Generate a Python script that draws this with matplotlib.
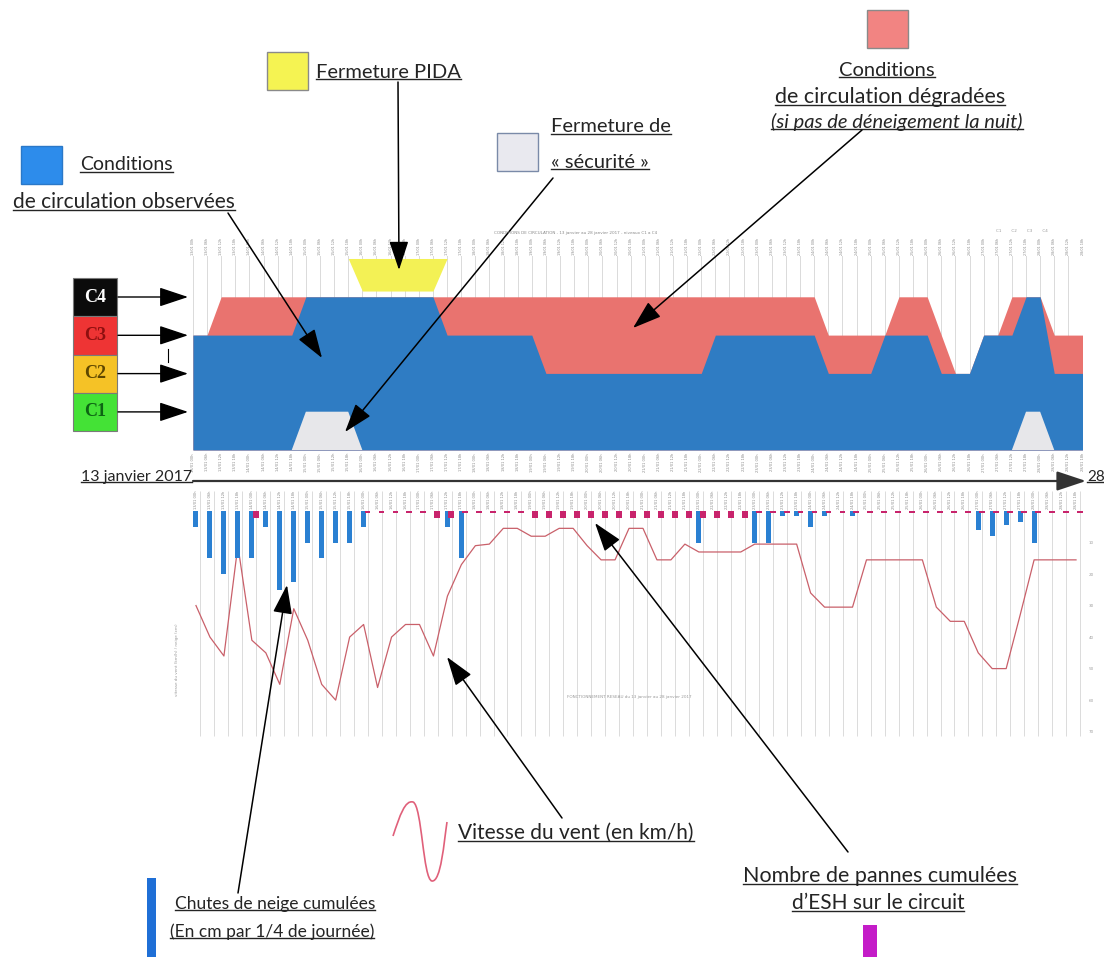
import matplotlib
matplotlib.use('Agg')
import matplotlib.pyplot as plt
import numpy as np
from matplotlib.patches import Rectangle, PathPatch
from matplotlib.path import Path

W, H = 1104, 957
FONT = 'Lato'
TXT = '#242424'

# --- donnees : un point par quart de journee, du 13 au 28 janvier 2017 ---
days = list(range(13, 29))
hours = ['00h', '06h', '12h', '18h']

# niveau de circulation observe / degrade (1 = C1 ... 4 = C4)
observed = [3, 3, 3, 3, 3, 3, 3, 3,
            4, 4, 4, 4, 4, 4, 4, 4, 4, 4,
            3, 3, 3, 3, 3, 3, 3,
            2, 2, 2, 2, 2, 2, 2, 2, 2, 2, 2, 2,
            3, 3, 3, 3, 3, 3, 3, 3,
            2, 2, 2, 2,
            3, 3, 3, 3,
            2, 2, 2,
            3, 3, 3,
            4, 4,
            2, 2, 2]
degraded = [3, 3,
            4, 4, 4, 4, 4, 4, 4, 4, 4, 4,
            4, 4, 4, 4, 4, 4, 4, 4, 4, 4,
            4, 4, 4, 4, 4, 4, 4, 4, 4, 4,
            4, 4, 4, 4, 4, 4, 4, 4, 4, 4,
            4, 4, 4,
            3, 3, 3, 3, 3,
            4, 4, 4,
            3,
            2, 2,
            3, 3,
            4, 4, 4,
            3, 3, 3]
# fermeture de securite (niveau C1) et fermeture PIDA
security = [0, 0, 0, 0, 0, 0, 0, 0, 1, 1, 1, 1,
            0, 0, 0, 0, 0, 0, 0, 0, 0, 0, 0, 0, 0, 0, 0, 0,
            0, 0, 0, 0, 0, 0, 0, 0, 0, 0, 0, 0, 0, 0, 0, 0,
            0, 0, 0, 0, 0, 0, 0, 0, 0, 0, 0, 0, 0, 0, 0,
            1, 1, 0, 0, 0]
pida = [0, 0, 0, 0, 0, 0, 0, 0, 0, 0, 0, 0,
        1, 1, 1, 1, 1, 1,
        0, 0, 0, 0, 0, 0, 0, 0, 0, 0, 0, 0, 0, 0, 0, 0,
        0, 0, 0, 0, 0, 0, 0, 0, 0, 0, 0, 0, 0, 0, 0, 0,
        0, 0, 0, 0, 0, 0, 0, 0, 0, 0, 0, 0, 0, 0]

# chutes de neige (cm par 1/4 de journee)
snow = [5, 15, 20, 15, 15, 5, 25, 22.5, 10, 15, 10, 10, 5,
        0, 0, 0, 0, 0, 5, 15,
        0, 0, 0, 0, 0, 0, 0, 0, 0, 0, 0, 0, 0, 0, 0, 0,
        10, 0, 0, 0, 10, 10, 1.5, 1.5, 5, 1.5, 0, 1.5,
        0, 0, 0, 0, 0, 0, 0, 0,
        6, 8, 4.5, 3.5, 10, 0, 0, 0]
# vitesse du vent (km/h)
wind = [30, 40, 46, 11, 41, 45, 55, 31, 41, 55, 60, 40, 36, 56, 40, 36, 36, 46, 27, 17,
        11, 10.5, 5.5, 5.5, 8, 8, 5.5, 5.5, 11, 15.5, 15.5, 5.5, 5.5, 15.5, 15.5, 10.5,
        13, 13, 13, 13, 10.5, 10.5, 10.5, 10.5, 26, 30.5, 30.5, 30.5, 15.5, 15.5, 15.5, 15.5,
        15.5, 30.5, 35, 35, 45, 50, 50, 33, 15.5, 15.5, 15.5, 15.5]
# pannes d'ESH
failures = [0, 0, 0, 0, 3, 0, 0, 0, 0, 0, 0, 0,
            1, 1, 1, 1, 1, 3, 3, 1, 1, 1, 1, 1,
            3, 3, 3, 3, 3, 3, 3, 3, 3, 3, 3, 3, 3, 3, 3, 3,
            1, 1, 1, 1, 1, 1, 1, 1, 1, 1, 1, 1,
            1, 1, 1, 1, 1, 1, 1, 1, 1, 1, 1, 1]

labels = ['%02d/01 %s' % (d, h) for d in days for h in hours]


def rect(left, top, right, bottom):
    return [left / W, 1 - bottom / H, (right - left) / W, (bottom - top) / H]


fig = plt.figure(figsize=(W / 100, H / 100), dpi=100)
fig.patch.set_facecolor('white')
x = np.arange(len(observed))

# ---------------- graphique du haut ----------------
ax1 = fig.add_axes(rect(192.9, 256, 1082.5, 450))
ax1.vlines(x, 0, 5.2, color='#d4d4d4', lw=0.6, zorder=0)
ax1.fill_between(x, 0, degraded, color='#e9736f', lw=0, zorder=1)
ax1.fill_between(x, 0, observed, color='#2f7cc3', lw=0, zorder=2)
sec = np.array(security)
ax1.fill_between(x, 0, sec, where=np.convolve(sec, [1, 1, 1], 'same') > 0,
                 color='#e7e7ea', lw=0, zorder=3)
pd_ = np.array(pida)
ax1.fill_between(x, 5 - 0.85 * pd_, 5, where=np.convolve(pd_, [1, 1, 1], 'same') > 0,
                 color='#f3f155', lw=0, zorder=3)
ax1.set_xlim(0, 63)
ax1.set_ylim(0, 5.065)
ax1.axis('off')
for i, lab in enumerate(labels):
    ax1.text(i, 5.1, lab, rotation=90, fontsize=2.4, ha='center', va='bottom',
             color='#8a8a8a', clip_on=False)
    ax1.text(i, -0.08, lab, rotation=90, fontsize=2.6, ha='center', va='top',
             color='#8a8a8a', clip_on=False)

# ---------------- graphique du bas ----------------
ax2 = fig.add_axes(rect(189, 488, 1083, 737))
ax2.vlines(x + 0.3, -6.5, 71.5, color='#d6d6d6', lw=0.6, zorder=0)
ax2.plot(x, wind, color='#c9606a', lw=0.9, zorder=2)
ax2.bar(x, snow, width=0.36, color='#2a80d2', zorder=3)
ax2.set_xlim(-0.5, 63.5)
ax2.set_ylim(71.7, -7.3)
for i, lab in enumerate(labels):
    ax2.text(i, -3.6, lab, rotation=90, fontsize=2.6, ha='center', va='center', color='#8a8a8a')
ax2.text(31, 59, 'FONCTIONNEMENT RESEAU du 13 janvier au 28 janvier 2017', fontsize=3,
         color='#9a9a9a', ha='center', va='center')
ax3 = ax2.twinx()
ax3.bar(x + 0.28, failures, width=0.42, color='#c8246c', zorder=4)
ax3.set_ylim(102.7, -10.5)
ax3.axis('off')
ax2.yaxis.tick_right()
ax2.set_yticks([10, 20, 30, 40, 50, 60, 70])
ax2.tick_params(axis='y', length=0, labelsize=3, labelcolor='#a0a0a0', pad=4)
ax2.set_xticks([])
for s in ax2.spines.values():
    s.set_visible(False)

# ---------------- annotations ----------------
ax0 = fig.add_axes([0, 0, 1, 1], zorder=10)
ax0.set_xlim(0, W)
ax0.set_ylim(H, 0)
ax0.axis('off')

underlined = []


def label(px, py, s, size=14, ha='left', style='normal', under=True):
    t = ax0.text(px, py, s, fontsize=size, ha=ha, va='center', color=TXT,
                 family=FONT, style=style)
    if under:
        underlined.append(t)
    return t


def arrow(x0, y0, x1, y1, lw=1.1, color='black'):
    ax0.annotate('', xy=(x1, y1), xytext=(x0, y0),
                 arrowprops=dict(arrowstyle='-|>,head_length=0.9,head_width=0.3',
                                 mutation_scale=20, color=color, lw=lw,
                                 shrinkA=0, shrinkB=0))


def box(px, py, w, h, face, edge='#8a8a8a'):
    ax0.add_patch(Rectangle((px, py), w, h, facecolor=face, edgecolor=edge, lw=1))


# legendes du haut
box(21, 146, 41, 38, '#2d8ceb', '#2a78c8')
label(80, 165, 'Conditions')
label(13, 202, 'de circulation observées', size=15)
box(267, 52, 41, 38, '#f5f352')
label(316, 72, 'Fermeture PIDA', size=14.5)
box(497, 133, 41, 38, '#e9e9ef', '#7a8aa8')
label(551, 127, 'Fermeture de', size=14.5)
label(551, 162, '« sécurité »', size=14.5)
box(867, 10, 41, 38, '#f28482')
label(887, 70, 'Conditions', ha='center', size=14.5)
label(890, 97, 'de circulation dégradées', ha='center', size=15.5)
label(897, 122, '(si pas de déneigement la nuit)', size=14.5, ha='center', style='italic')

arrow(228, 213, 322, 358)
arrow(398, 82, 399, 270)
arrow(553, 178, 345, 432)
arrow(862, 130, 633, 328)

# echelle C1..C4
levels = [('C4', '#0b0b0b', 'white'), ('C3', '#ee3434', '#8e0f0f'),
          ('C2', '#f5c226', '#5e4700'), ('C1', '#44e236', '#0d6414')]
for k, (name, face, tc) in enumerate(levels):
    top = 278 + 38.3 * k
    ax0.add_patch(Rectangle((73, top), 44, 38.3, facecolor=face, edgecolor='#7a7a7a', lw=0.8))
    ax0.text(95, top + 19, name, fontsize=13, fontweight='bold', family='Liberation Serif',
             color=tc, ha='center', va='center')
    arrow(118, top + 19, 188, top + 19, lw=1.0)
ax0.plot([168, 168], [349, 362], color='black', lw=0.8)

# frise chronologique
label(192, 477, '13 janvier 2017', size=11.5, ha='right')
arrow(193, 481, 1086, 481, lw=1.6, color='#333333')
label(1087, 477, '28', size=11)

# petits textes des graphiques source
ax0.text(576, 233, 'CONDITIONS DE CIRCULATION - 13 janvier au 28 janvier 2017 - niveaux C1 a C4',
         fontsize=3, color='#8a8a8a', ha='center', va='center')
ax0.text(1022, 231, 'C1        C2        C3        C4', fontsize=3, color='#9a9a9a',
         ha='center', va='center')
ax0.text(177, 660, 'vitesse du vent (km/h) / neige (cm)', fontsize=3, color='#9a9a9a',
         rotation=90, ha='center', va='center')

# legendes du bas
ax0.add_patch(Rectangle((147, 878), 9, 80, facecolor='#1f6fd6', edgecolor='none'))
label(175, 904, 'Chutes de neige cumulées', size=12.5)
label(170, 932, '(En cm par 1/4 de journée)', size=12.5)
squiggle = Path([(393, 836), (400, 815), (405, 800), (413, 802),
                 (422, 805), (423, 880), (432, 881),
                 (441, 882), (444, 842), (447, 822)],
                [Path.MOVETO, Path.CURVE4, Path.CURVE4, Path.CURVE4,
                 Path.CURVE4, Path.CURVE4, Path.CURVE4,
                 Path.CURVE4, Path.CURVE4, Path.CURVE4])
ax0.add_patch(PathPatch(squiggle, facecolor='none', edgecolor='#e0607a', lw=1.2))
label(458, 833, 'Vitesse du vent (en km/h)', size=15)
label(880, 876, 'Nombre de pannes cumulées', ha='center', size=15.5)
label(878, 903, 'd\u2019ESH sur le circuit', ha='center', size=15)
ax0.add_patch(Rectangle((863, 925), 14, 33, facecolor='#c41cc8', edgecolor='none'))

arrow(238, 893, 287, 585)
arrow(562, 818, 447, 657)
arrow(848, 852, 595, 523)

# soulignements
fig.canvas.draw()
r = fig.canvas.get_renderer()
for t in underlined:
    bb = t.get_window_extent(r)
    yy = H - bb.y0 - 2
    ax0.plot([bb.x0, bb.x1], [yy, yy], color=TXT, lw=1.0)

fig.savefig('out.png', dpi=100)
